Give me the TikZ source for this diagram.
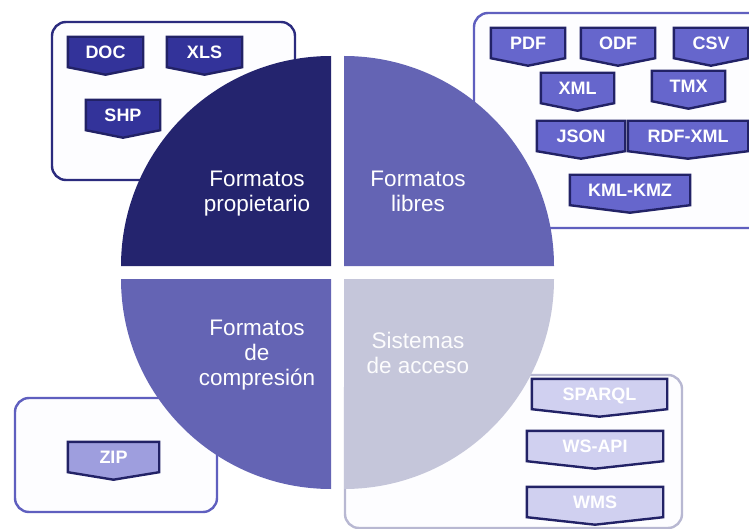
\documentclass[tikz,border=0pt]{standalone}
\usepackage{fontspec}
\setmainfont{Liberation Sans}
\usetikzlibrary{calc}
\pgfdeclarelayer{bottom}
\pgfdeclarelayer{tagbg}
\pgfsetlayers{bottom,tagbg,main}
\definecolor{qdark}{HTML}{24246E}
\definecolor{qmid}{HTML}{6464B4}
\definecolor{qlight}{HTML}{C5C6DA}
\definecolor{boxA}{HTML}{2B2B7E}
\definecolor{boxB}{HTML}{5F5FBF}
\definecolor{boxC}{HTML}{B8B8D2}
\definecolor{tagline}{HTML}{222266}
\definecolor{tagA}{HTML}{33339A}
\definecolor{tagB}{HTML}{6666CC}
\definecolor{tagC}{HTML}{9E9EDE}
\definecolor{tagD}{HTML}{D0D0F0}
\definecolor{boxfill}{HTML}{FDFDFF}
\tikzset{
  groupbox/.style={line width=2.4pt, rounded corners=14pt, fill=boxfill},
  tagtext/.style={inner sep=0pt, minimum height=30pt, text height=13pt, text depth=0pt,
    text=white, font=\fontsize{18}{20}\selectfont\bfseries},
  tagshape/.style={line width=2.4pt, draw=tagline, line join=miter},
  qtext/.style={inner sep=0pt, anchor=north, align=center, text=white,
    font=\fontsize{22.5}{25}\selectfont},
}
\newcommand\mytag[6]{%
  \node[tagtext, minimum width={(#4-#3)*1pt}] (#1) at ({(#3+#4)/2},{#5+15}) {#6};
  \begin{pgfonlayer}{tagbg}
    \filldraw[tagshape, fill=#2] (#1.north west) -- (#1.north east) -- (#1.south east)
      -- ($(#1.south)+(0,7.5)$) -- (#1.south west) -- cycle;
  \end{pgfonlayer}}
\begin{document}
\begin{tikzpicture}[x=1pt, y=-1pt]
\useasboundingbox (0,0) rectangle (749,529);
\begin{pgfonlayer}{bottom}
  \fill[white] (0,0) rectangle (749,529);
  % group boxes
  \draw[groupbox, draw=boxA] (52,22) rectangle (295,180);
  \draw[groupbox, draw=boxB] (474,13) rectangle (765,228);
  \draw[groupbox, draw=boxB] (15,398) rectangle (217,512);
  \draw[groupbox, draw=boxC] (345,375) rectangle (682,528);
  % quadrants
  \fill[qdark]  (331,266) -- ++(-210,0) arc[start angle=180, end angle=270, radius=210] -- cycle;
  \fill[qmid]   (344,266) -- ++(0,-210) arc[start angle=270, end angle=360, radius=210] -- cycle;
  \fill[qmid]   (331,279) -- ++(0,210) arc[start angle=90, end angle=180, radius=210] -- cycle;
  \fill[qlight] (344,279) -- ++(210,0) arc[start angle=0, end angle=90, radius=210] -- cycle;
\end{pgfonlayer}
% quadrant labels
\node[qtext] (tl) at (257,171) {Formatos\\propietario};
\node[qtext] (tr) at (418,171) {Formatos\\libres};
\node[qtext] (bl) at (257,320) {Formatos\\de\\compresión};
\node[qtext, text=white!95!qlight] (br) at (418,332) {Sistemas\\de acceso};
% tags
\mytag{doc}{tagA}{68}{143}{37}{DOC}
\mytag{xls}{tagA}{167}{242}{37}{XLS}
\mytag{shp}{tagA}{86}{160}{100}{SHP}
\mytag{pdf}{tagB}{491}{565}{28}{PDF}
\mytag{odf}{tagB}{581}{655}{28}{ODF}
\mytag{csv}{tagB}{674}{748}{28}{CSV}
\mytag{xml}{tagB}{541}{614}{73}{XML}
\mytag{tmx}{tagB}{652}{725}{71}{TMX}
\mytag{json}{tagB}{537}{625}{121}{JSON}
\mytag{rdf}{tagB}{628}{748}{121}{RDF-XML}
\mytag{kml}{tagB}{570}{690}{175}{KML-KMZ}
\mytag{zip}{tagC}{68}{159}{442}{ZIP}
\mytag{sparql}{tagD}{532}{667}{379}{SPARQL}
\mytag{wsapi}{tagD}{527}{663}{431}{WS-API}
\mytag{wms}{tagD}{527}{663}{487}{WMS}
\end{tikzpicture}
\end{document}
